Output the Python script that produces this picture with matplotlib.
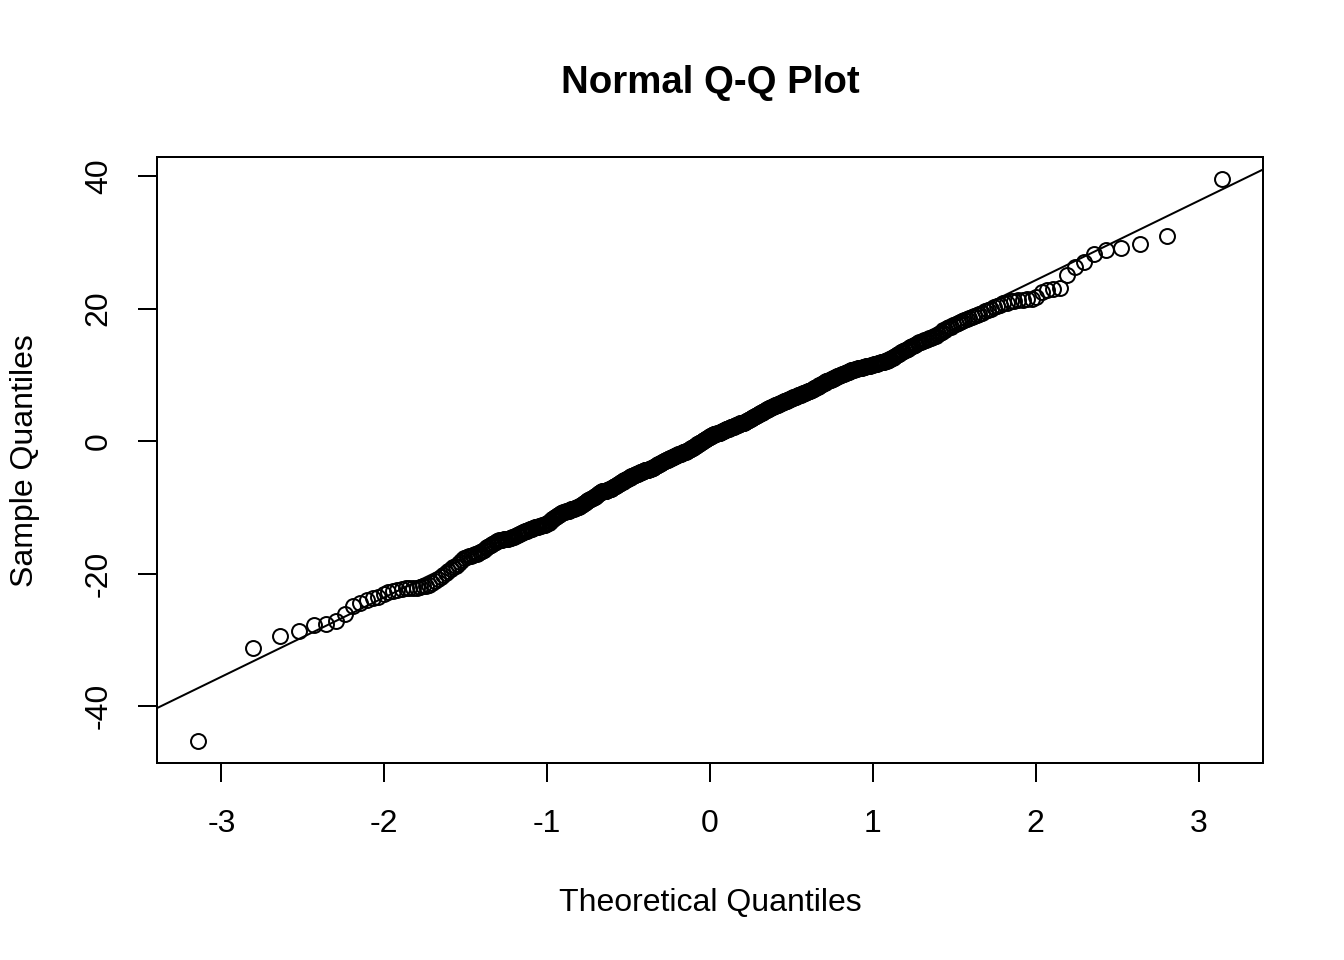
import matplotlib
matplotlib.use("Agg")
import matplotlib.pyplot as plt
import numpy as np
from statistics import NormalDist

plt.rcParams['font.family'] = ['Liberation Sans', 'DejaVu Sans']

# Sorted sample values, n = 600
lower_tail = [-45.2, -31.3, -29.4, -28.6, -27.8, -27.6, -27.1, -26.1, -24.9, -24.5,
              -24.0, -23.7, -23.5, -23.1, -22.8, -22.6, -22.4, -22.3, -22.2, -22.2,
              -22.1, -22.1, -22.0, -21.9, -21.9, -21.7, -21.4, -21.1, -20.8, -20.5,
              -20.2, -19.9, -19.6, -19.3, -19.0, -18.8, -18.5, -18.2, -18.0, -17.7,
              -17.5, -17.4, -17.3, -17.2, -17.1, -17.0, -16.9, -16.8, -16.6, -16.4,
              -16.2, -16.0, -15.9, -15.7, -15.6, -15.4, -15.3, -15.1, -15.0, -14.9]
lower_body = [-14.9, -14.8, -14.8, -14.7, -14.7, -14.6, -14.6, -14.5, -14.4, -14.3,
              -14.2, -14.1, -14.0, -13.9, -13.8, -13.7, -13.6, -13.5, -13.5, -13.4,
              -13.3, -13.3, -13.2, -13.1, -13.0, -13.0, -12.9, -12.9, -12.8, -12.8,
              -12.7, -12.7, -12.6, -12.6, -12.5, -12.4, -12.3, -12.1, -12.0, -11.8,
              -11.7, -11.6, -11.5, -11.4, -11.3, -11.2, -11.1, -11.0, -10.9, -10.8,
              -10.7, -10.7, -10.6, -10.6, -10.5, -10.5, -10.4, -10.4, -10.3, -10.3,
              -10.2, -10.2, -10.1, -10.1, -10.0, -10.0, -9.9, -9.8, -9.7, -9.6,
              -9.5, -9.4, -9.3, -9.2, -9.1, -9.0, -8.9, -8.9, -8.8, -8.7,
              -8.6, -8.6, -8.5, -8.4, -8.3, -8.3, -8.2, -8.0, -7.9, -7.8,
              -7.7, -7.7, -7.6, -7.6, -7.6, -7.5, -7.5, -7.5, -7.4, -7.4,
              -7.3, -7.3, -7.2, -7.2, -7.1, -7.0, -6.9, -6.8, -6.8, -6.7,
              -6.6, -6.5, -6.4, -6.4, -6.3, -6.2, -6.1, -6.1, -6.0, -5.9,
              -5.9, -5.8, -5.7, -5.7, -5.6, -5.5, -5.5, -5.4, -5.3, -5.3]
center_low = [-5.2, -5.2, -5.1, -5.1, -5.0, -5.0, -4.9, -4.9, -4.8, -4.8,
              -4.7, -4.7, -4.6, -4.6, -4.5, -4.5, -4.4, -4.4, -4.4, -4.3,
              -4.3, -4.3, -4.2, -4.2, -4.2, -4.1, -4.1, -4.0, -4.0, -3.9,
              -3.8, -3.8, -3.7, -3.6, -3.6, -3.5, -3.5, -3.4, -3.3, -3.3,
              -3.2, -3.2, -3.1, -3.0, -3.0, -2.9, -2.9, -2.8, -2.8, -2.7,
              -2.7, -2.6, -2.6, -2.5, -2.5, -2.4, -2.4, -2.3, -2.3, -2.2,
              -2.2, -2.1, -2.1, -2.0, -2.0, -1.9, -1.9, -1.9, -1.8, -1.8,
              -1.7, -1.7, -1.7, -1.6, -1.6, -1.5, -1.5, -1.4, -1.4, -1.3,
              -1.2, -1.2, -1.1, -1.1, -1.0, -0.9, -0.9, -0.8, -0.7, -0.7,
              -0.6, -0.5, -0.5, -0.4, -0.3, -0.3, -0.2, -0.1, -0.1, 0.0,
              0.1, 0.1, 0.2, 0.3, 0.3, 0.4, 0.5, 0.5, 0.6, 0.6]
center_high = [0.7, 0.7, 0.8, 0.9, 0.9, 1.0, 1.0, 1.1, 1.1, 1.1,
               1.2, 1.2, 1.2, 1.3, 1.3, 1.4, 1.4, 1.5, 1.5, 1.6,
               1.6, 1.7, 1.7, 1.8, 1.8, 1.8, 1.9, 1.9, 2.0, 2.0,
               2.1, 2.1, 2.2, 2.2, 2.2, 2.3, 2.3, 2.4, 2.4, 2.5,
               2.5, 2.5, 2.6, 2.6, 2.7, 2.7, 2.7, 2.8, 2.8, 2.8,
               2.9, 2.9, 3.0, 3.0, 3.1, 3.2, 3.2, 3.3, 3.3, 3.4,
               3.5, 3.5, 3.6, 3.6, 3.7, 3.8, 3.8, 3.9, 3.9, 4.0,
               4.1, 4.1, 4.2, 4.2, 4.3, 4.4, 4.4, 4.5, 4.5, 4.6,
               4.7, 4.7, 4.8, 4.8, 4.9, 5.0, 5.0, 5.1, 5.1, 5.2,
               5.2, 5.3, 5.3, 5.4, 5.4, 5.5, 5.5, 5.6, 5.6, 5.7]
upper_body = [5.7, 5.8, 5.8, 5.9, 5.9, 6.0, 6.0, 6.1, 6.1, 6.2,
              6.2, 6.3, 6.3, 6.4, 6.4, 6.5, 6.5, 6.6, 6.6, 6.7,
              6.7, 6.8, 6.8, 6.9, 6.9, 7.0, 7.0, 7.1, 7.1, 7.2,
              7.2, 7.3, 7.3, 7.4, 7.4, 7.5, 7.5, 7.6, 7.6, 7.7,
              7.7, 7.8, 7.9, 8.0, 8.0, 8.1, 8.2, 8.2, 8.3, 8.4,
              8.5, 8.5, 8.6, 8.7, 8.8, 8.8, 8.9, 9.0, 9.0, 9.1,
              9.2, 9.2, 9.3, 9.4, 9.4, 9.5, 9.6, 9.6, 9.7, 9.8,
              9.8, 9.9, 10.0, 10.0, 10.1, 10.2, 10.2, 10.3, 10.3, 10.4,
              10.5, 10.5, 10.6, 10.6, 10.7, 10.7, 10.8, 10.8, 10.9, 10.9,
              11.0, 11.0, 11.0, 11.1, 11.1, 11.2, 11.2, 11.2, 11.3, 11.3,
              11.4, 11.4, 11.4, 11.5, 11.5, 11.6, 11.6, 11.7, 11.7, 11.8,
              11.8, 11.9, 11.9, 12.0, 12.0, 12.1, 12.1, 12.2, 12.3, 12.4,
              12.5, 12.6, 12.7, 12.9, 13.0, 13.1, 13.2, 13.4, 13.5, 13.6,
              13.7, 13.8, 13.9, 14.0, 14.2, 14.3, 14.4, 14.5, 14.6, 14.8]
upper_tail = [14.9, 15.0, 15.1, 15.2, 15.3, 15.4, 15.5, 15.6, 15.7, 15.8,
              15.9, 16.1, 16.3, 16.5, 16.7, 16.8, 17.0, 17.2, 17.3, 17.5,
              17.7, 17.8, 18.0, 18.2, 18.3, 18.5, 18.6, 18.8, 18.9, 19.1,
              19.2, 19.4, 19.6, 19.8, 20.0, 20.2, 20.4, 20.6, 20.8, 20.9,
              21.1, 21.2, 21.3, 21.3, 21.4, 21.5, 21.8, 22.5, 22.8, 23.0,
              23.1, 25.1, 26.3, 27.0, 28.2, 28.8, 29.2, 29.8, 31.0, 39.5]

title_text = "Normal Q-Q Plot"
x_label = "Theoretical Quantiles"
y_label = "Sample Quantiles"
x_ticks = [-3, -2, -1, 0, 1, 2, 3]
y_ticks = [-40, -20, 0, 20, 40]

sample = np.array(lower_tail + lower_body + center_low + center_high + upper_body + upper_tail)
n = len(sample)
nd = NormalDist()
a = 3 / 8 if n <= 10 else 0.5
theo = np.array([nd.inv_cdf((i + 1 - a) / (n + 1 - 2 * a)) for i in range(n)])

# qqline through quartiles
yq = np.quantile(sample, [0.25, 0.75])
xq = np.array([nd.inv_cdf(0.25), nd.inv_cdf(0.75)])
slope = (yq[1] - yq[0]) / (xq[1] - xq[0])
intercept = yq[0] - slope * xq[0]

fig = plt.figure(figsize=(7, 5), dpi=192)
ax = fig.add_axes([157 / 1344, 1 - 763 / 960, (1263 - 157) / 1344, (763 - 157) / 960])

ax.plot(theo, sample, linestyle='none', marker='o', markersize=5.6,
        markerfacecolor='none', markeredgecolor='black', markeredgewidth=0.75)
ax.axline((0, intercept), slope=slope, color='black', linewidth=0.75)

xr = theo.max() - theo.min()
yr = sample.max() - sample.min()
ax.set_xlim(theo.min() - 0.04 * xr, theo.max() + 0.04 * xr)
ax.set_ylim(sample.min() - 0.04 * yr, sample.max() + 0.04 * yr)

ax.set_xticks(x_ticks)
ax.set_xticklabels([str(t) for t in x_ticks])
ax.set_yticks(y_ticks)
ax.set_yticklabels([str(t) for t in y_ticks], rotation=90, va='center')

for s in ax.spines.values():
    s.set_linewidth(0.75)
ax.tick_params(axis='both', direction='out', length=7.2, width=0.75,
               labelsize=12, colors='black')
ax.tick_params(axis='x', pad=10)
ax.tick_params(axis='y', pad=9)

fig.text(710 / 1344, 1 - 83 / 960, title_text, ha='center', va='center',
         fontsize=14.4, fontweight='bold')
fig.text(710 / 1344, 1 - 903 / 960, x_label, ha='center', va='center', fontsize=12)
fig.text(25 / 1344, 1 - 461 / 960, y_label, ha='center', va='center',
         fontsize=12, rotation=90)

fig.savefig("out.png", dpi=192)
